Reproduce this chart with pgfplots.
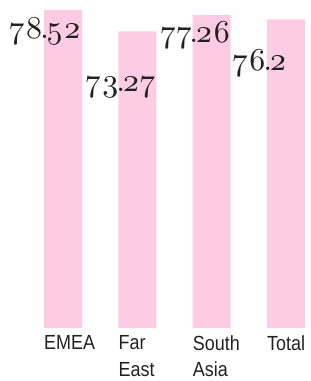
\documentclass[border=0pt]{standalone}
\usepackage{fontspec}
\usepackage{pgfplots}
\pgfplotsset{compat=1.18}
\newfontfamily\osf{lmroman10-regular.otf}[Numbers=OldStyle]
\newfontfamily\cond{Liberation Sans}[FakeStretch=0.88]
\definecolor{barpink}{RGB}{253,204,228}
\newcommand{\pd}{\kern-3bp.\kern-3bp}
\begin{document}
\begin{tikzpicture}
\begin{axis}[
  x=74.333bp, y=4.05bp,
  xmin=-0.8476, xmax=3.3363,
  ymin=0, ymax=80.99,
  clip=false,
  axis line style={draw=none},
  major tick length=0pt,
  ytick=\empty,
  xtick={0,1,2,3},
  xticklabels={EMEA,Far\\East,South\\Asia,Total},
  xticklabel style={anchor=north west, xshift=-19bp, yshift=-7.5bp, inner sep=0pt, align=left,
    font=\cond\fontsize{20.5}{26.5}\selectfont, text=black!87},
]
\addplot[ybar, bar width=38bp, fill=barpink, draw=none] coordinates {(0,78.52) (1,73.27) (2,77.26) (3,76.2)};
\addplot[draw=none, mark=none, nodes near coords, point meta=explicit symbolic,
  nodes near coords style={anchor=base, inner sep=0pt, font=\osf\fontsize{32}{32}\selectfont, text=black!87}]
  coordinates {(-0.242,71.6)[78\pd52] (0.774,58.5)[73\pd27] (1.783,70.4)[77\pd26] (2.644,63.7)[76\pd2]};
\end{axis}
\pgfresetboundingbox
\path (current axis.south west) ++(0,-53bp) rectangle (current axis.north east);
\end{tikzpicture}
\end{document}
